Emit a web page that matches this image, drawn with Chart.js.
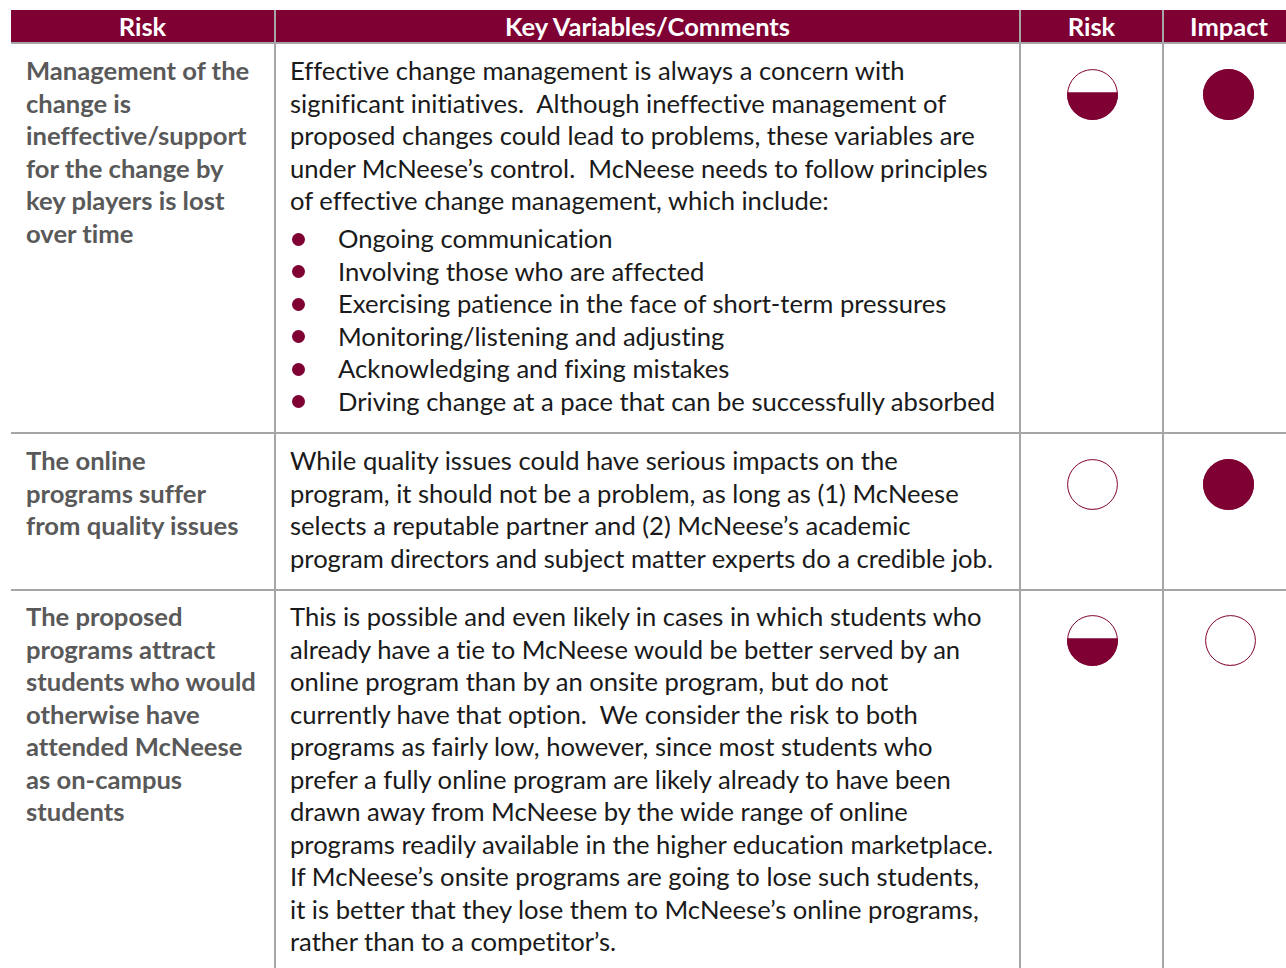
<!DOCTYPE html>
<html>
<head>
<meta charset="utf-8">
<title>Risk table</title>
<script src="https://cdn.jsdelivr.net/npm/chart.js@4"></script>
<style>
  html, body { margin: 0; padding: 0; background: #fff; }
  body { width: 1286px; height: 968px; overflow: hidden; position: relative; font-family: Lato, sans-serif; font-variant-ligatures: none; }
  .head { position: absolute; top: 10px; left: 11px; width: 1275px; height: 32px; background: #7f0033; }
  .head-text { position: absolute; top: 10px; height: 32px; line-height: 32px; text-align: center; color: #fff; font-weight: 700; font-size: 25.5px; }
  .hline { position: absolute; left: 11px; width: 1275px; height: 2px; background: #a6a6a6; }
  .vline { position: absolute; width: 2px; background: #a6a6a6; }
  .line { position: absolute; white-space: nowrap; line-height: 32.5px; height: 32.5px; font-size: 25.6px; color: #1a1a1a; }
  .line.name { left: 26px; font-weight: 700; color: #595959; }
  .line.body { left: 290px; }
  .line.item { left: 338px; }
  .dot { position: absolute; left: 292px; width: 13px; height: 13px; border-radius: 50%; background: #7f0033; }
  canvas { position: absolute; }
</style>
</head>
<body>
<div class="head"></div>
<script>
const headers = ['Risk', 'Key Variables/Comments', 'Risk', 'Impact'];

const riskNames = [
  ['Management of the', 'change is', 'ineffective/support', 'for the change by', 'key players is lost', 'over time'],
  ['The online', 'programs suffer', 'from quality issues'],
  ['The proposed', 'programs attract', 'students who would', 'otherwise have', 'attended McNeese', 'as on-campus', 'students']
];

const comments = [
  ['Effective change management is always a concern with',
   'significant initiatives.  Although ineffective management of',
   'proposed changes could lead to problems, these variables are',
   'under McNeese\u2019s control.  McNeese needs to follow principles',
   'of effective change management, which include:'],
  ['While quality issues could have serious impacts on the',
   'program, it should not be a problem, as long as (1) McNeese',
   'selects a reputable partner and (2) McNeese\u2019s academic',
   'program directors and subject matter experts do a credible job.'],
  ['This is possible and even likely in cases in which students who',
   'already have a tie to McNeese would be better served by an',
   'online program than by an onsite program, but do not',
   'currently have that option.  We consider the risk to both',
   'programs as fairly low, however, since most students who',
   'prefer a fully online program are likely already to have been',
   'drawn away from McNeese by the wide range of online',
   'programs readily available in the higher education marketplace.',
   'If McNeese\u2019s onsite programs are going to lose such students,',
   'it is better that they lose them to McNeese\u2019s online programs,',
   'rather than to a competitor\u2019s.']
];

const bullets = [
  'Ongoing communication',
  'Involving those who are affected',
  'Exercising patience in the face of short-term pressures',
  'Monitoring/listening and adjusting',
  'Acknowledging and fixing mistakes',
  'Driving change at a pace that can be successfully absorbed'
];

// how full each ball is, in percent of its height
const riskLevels = [54, 0, 54];
const impactLevels = [100, 100, 0];

const MAROON = '#7f0033';
const LINE_H = 32.5;
const rowTops = [54, 444, 600];
const listTop = 222;
const ballTops = [69, 459, 615];
const riskLefts = [1067, 1067, 1067];
const impactLefts = [1203, 1203, 1205];
const BALL = 51;

function add(cls, text, top, extra) {
  const d = document.createElement('div');
  d.className = cls;
  if (text) d.textContent = text;
  if (top !== null) d.style.top = top + 'px';
  if (extra) Object.assign(d.style, extra);
  document.body.appendChild(d);
  return d;
}

// grid lines
add('hline', '', 42);
add('hline', '', 432);
add('hline', '', 589);
[274, 1019, 1162].forEach(x => add('vline', '', 10, { left: x + 'px', height: '958px' }));

// header text, centred over each column
[[11, 263], [276, 743], [1021, 141], [1164, 130]].forEach((c, i) => {
  add('head-text', headers[i], null, { left: c[0] + 'px', width: c[1] + 'px' });
});

riskNames.forEach((lines, r) => {
  lines.forEach((t, i) => add('line name', t, rowTops[r] + i * LINE_H));
});
comments.forEach((lines, r) => {
  lines.forEach((t, i) => add('line body', t.replace(/  /g, '\u00a0 '), rowTops[r] + i * LINE_H));
});
bullets.forEach((t, i) => {
  add('line item', t, listTop + i * LINE_H);
  add('dot', '', listTop + i * LINE_H + 10.5);
});

// keeps the bar inside a circle and draws the thin ring round it
const ballClip = {
  id: 'ballClip',
  beforeDatasetsDraw(chart) {
    const a = chart.chartArea, ctx = chart.ctx;
    ctx.save();
    ctx.beginPath();
    ctx.arc((a.left + a.right) / 2, (a.top + a.bottom) / 2, (a.right - a.left) / 2, 0, Math.PI * 2);
    ctx.clip();
  },
  afterDatasetsDraw(chart) {
    const a = chart.chartArea, ctx = chart.ctx;
    ctx.restore();
    ctx.beginPath();
    ctx.arc((a.left + a.right) / 2, (a.top + a.bottom) / 2, (a.right - a.left) / 2 - 0.6, 0, Math.PI * 2);
    ctx.strokeStyle = MAROON;
    ctx.lineWidth = 1;
    ctx.stroke();
  }
};

function ball(left, top, level) {
  const cv = document.createElement('canvas');
  cv.width = BALL;
  cv.height = BALL;
  cv.style.left = left + 'px';
  cv.style.top = top + 'px';
  document.body.appendChild(cv);
  new Chart(cv, {
    type: 'bar',
    data: { labels: [''], datasets: [{ data: [level], backgroundColor: MAROON, barPercentage: 1, categoryPercentage: 1, borderWidth: 0 }] },
    options: {
      responsive: false,
      animation: false,
      plugins: { legend: { display: false }, tooltip: { enabled: false } },
      scales: {
        x: { display: false },
        y: { display: false, min: 0, max: 100 }
      }
    },
    plugins: [ballClip]
  });
}

riskLevels.forEach((v, r) => ball(riskLefts[r], ballTops[r], v));
impactLevels.forEach((v, r) => ball(impactLefts[r], ballTops[r], v));
</script>
</body>
</html>
